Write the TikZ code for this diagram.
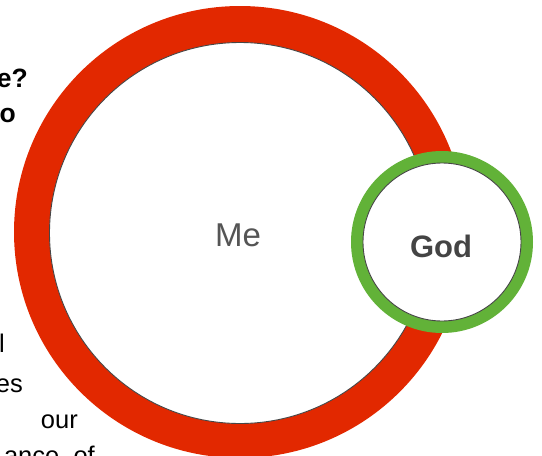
\documentclass[tikz,border=0pt]{standalone}
\usepackage{fontspec}
\setmainfont{Liberation Sans}
\definecolor{ringred}{RGB}{226,40,0}
\definecolor{ringgreen}{RGB}{98,178,56}
\definecolor{edgegray}{RGB}{70,70,70}
\definecolor{labelgray}{RGB}{85,85,85}
\definecolor{godgray}{RGB}{68,68,68}
\begin{document}
\begin{tikzpicture}[x=1pt,y=-1pt,
  ring/.style={circle,inner sep=0pt,draw=none},
  hole/.style={circle,inner sep=0pt,fill=white,draw=edgegray,line width=0.9pt},
  sidetext/.style={inner sep=0pt,anchor=base east,font=\fontsize{25.5}{28}\selectfont},
  sidebold/.style={sidetext,font=\fontsize{26.5}{28}\selectfont\bfseries}]
\useasboundingbox (0,0) rectangle (542,456);
\clip (0,0) rectangle (542,456);
\fill[white] (0,0) rectangle (542,456);
% Me circle
\node[ring,fill=ringred,minimum size=452pt] (meouter) at (240,232) {};
\node[hole,minimum size=381pt] (me) at (240,233) {};
\node[inner sep=0pt,anchor=base,text=labelgray,font=\fontsize{33}{36}\selectfont] (melabel) at (238,246) {Me};
% God circle
\node[ring,fill=ringgreen,minimum size=182pt] (godouter) at (442,242) {};
\node[hole,minimum size=158pt] (god) at (442,242) {};
\node[inner sep=0pt,anchor=base,text=godgray,font=\fontsize{31}{34}\selectfont\bfseries] (godlabel) at (441,257) {God};
% cut-off text on the left
\node[sidebold] (t1) at (28,87) {e?};
\node[sidebold] (t2) at (16,122) {o};
\node[sidetext] (t3) at (5,352) {l};
\node[sidetext] (t4) at (23,392) {es};
\node[sidetext] (t5) at (78,428) {our};
\node[sidetext] (t6) at (95,464) {ance\ \ of};
\end{tikzpicture}
\end{document}
